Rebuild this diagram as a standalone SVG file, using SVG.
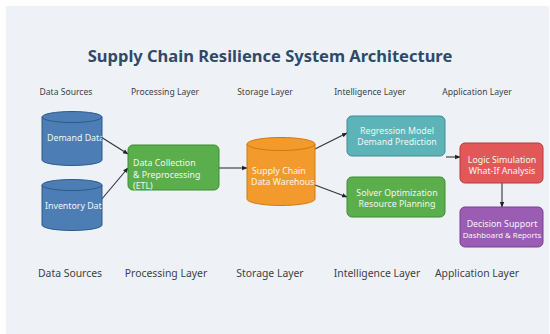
<svg xmlns="http://www.w3.org/2000/svg" width="550" height="334" viewBox="0 0 550 334">
<style>
text{font-family:"Noto Sans","Open Sans","DejaVu Sans",sans-serif}
.title{font-size:16.5px;font-weight:bold;fill:#2f4a68}
.top{font-size:8.6px;fill:#3a3f48}
.bot{font-size:10.4px;fill:#3a3f48}
.nt{font-size:8.8px;fill:#f4f7f4}
.sm{font-size:7.8px;fill:#f4f7f4}
.conn line{stroke:#333;stroke-width:1.1;marker-end:url(#ah)}
</style>
<defs>
<marker id="ah" viewBox="0 0 10 10" refX="9" refY="5" markerWidth="5" markerHeight="5" orient="auto"><path d="M0,1 L10,5 L0,9 z" fill="#222"/></marker>
<clipPath id="c1"><rect x="42" y="105" width="60" height="65"/></clipPath>
<clipPath id="c2"><rect x="42" y="172" width="60" height="65"/></clipPath>
<clipPath id="c3"><rect x="247" y="130" width="68" height="80"/></clipPath>
</defs>
<rect x="0" y="0" width="550" height="334" fill="#ffffff"/>
<rect x="6" y="6" width="543" height="328" fill="#eef2f6"/>
<text class="title" x="270" y="62" text-anchor="middle">Supply Chain Resilience System Architecture</text>
<g id="top-labels">
<text class="top" x="66" y="95" text-anchor="middle">Data Sources</text>
<text class="top" x="165" y="95" text-anchor="middle">Processing Layer</text>
<text class="top" x="265" y="95" text-anchor="middle">Storage Layer</text>
<text class="top" x="370" y="95" text-anchor="middle">Intelligence Layer</text>
<text class="top" x="477" y="95" text-anchor="middle">Application Layer</text>
</g>
<g id="bottom-labels">
<text class="bot" x="70" y="277" text-anchor="middle">Data Sources</text>
<text class="bot" x="166" y="277" text-anchor="middle">Processing Layer</text>
<text class="bot" x="270" y="277" text-anchor="middle">Storage Layer</text>
<text class="bot" x="377" y="277" text-anchor="middle">Intelligence Layer</text>
<text class="bot" x="477" y="277" text-anchor="middle">Application Layer</text>
</g>
<g class="conn" id="connectors">
<line x1="101" y1="137" x2="128" y2="154"/>
<line x1="101" y1="200" x2="128" y2="168"/>
<line x1="219" y1="168" x2="247" y2="168"/>
<line x1="315" y1="149" x2="347" y2="133"/>
<line x1="315" y1="185" x2="347" y2="197"/>
<line x1="446" y1="157" x2="460" y2="157"/>
<line x1="502" y1="183" x2="502" y2="207"/>
</g>
<g id="demand-data">
<path d="M42,117 L42,160 A30,5.5 0 0 0 102,160 L102,117" fill="#4c7db4" stroke="#2d5a8a" stroke-width="1"/>
<ellipse cx="72" cy="117" rx="30" ry="5.5" fill="#4c7db4" stroke="#2d5a8a" stroke-width="1"/>
<text class="nt" x="47" y="141" clip-path="url(#c1)">Demand Data</text>
</g>
<g id="inventory-data">
<path d="M42,185 L42,225 A30,5.5 0 0 0 102,225 L102,185" fill="#4c7db4" stroke="#2d5a8a" stroke-width="1"/>
<ellipse cx="72" cy="185" rx="30" ry="5.5" fill="#4c7db4" stroke="#2d5a8a" stroke-width="1"/>
<text class="nt" x="45" y="209" clip-path="url(#c2)">Inventory Data</text>
</g>
<g id="etl">
<rect x="128" y="145" width="91" height="45" rx="5" fill="#5aae4c" stroke="#3f8a35" stroke-width="1"/>
<text class="nt" x="133" y="166">Data Collection</text>
<text class="nt" x="133" y="177.5">&amp; Preprocessing</text>
<text class="nt" x="133" y="189">(ETL)</text>
</g>
<g id="warehouse">
<path d="M247,144 L247,199 A34,6.5 0 0 0 315,199 L315,144" fill="#f39a2c" stroke="#d27810" stroke-width="1"/>
<ellipse cx="281" cy="144" rx="34" ry="6.5" fill="#f39a2c" stroke="#d27810" stroke-width="1"/>
<text class="nt" x="252" y="173.5" clip-path="url(#c3)">Supply Chain</text>
<text class="nt" x="251" y="185" clip-path="url(#c3)">Data Warehouse</text>
</g>
<g id="regression">
<rect x="347" y="116" width="98" height="40" rx="5" fill="#5cb4b8" stroke="#3e8c90" stroke-width="1"/>
<text class="nt" x="397" y="133.5" text-anchor="middle">Regression Model</text>
<text class="nt" x="397" y="145" text-anchor="middle">Demand Prediction</text>
</g>
<g id="solver">
<rect x="347" y="177" width="98" height="40" rx="5" fill="#5aae4c" stroke="#3f8a35" stroke-width="1"/>
<text class="nt" x="397" y="195.5" text-anchor="middle">Solver Optimization</text>
<text class="nt" x="397" y="207" text-anchor="middle">Resource Planning</text>
</g>
<g id="logic-simulation">
<rect x="460" y="143" width="83" height="40" rx="5" fill="#e25858" stroke="#b83a3a" stroke-width="1"/>
<text class="nt" x="502" y="162.5" text-anchor="middle">Logic Simulation</text>
<text class="nt" x="502" y="174" text-anchor="middle">What-If Analysis</text>
</g>
<g id="decision-support">
<rect x="460" y="207" width="83" height="40" rx="5" fill="#9b5cb4" stroke="#7a3e94" stroke-width="1"/>
<text class="nt" x="502" y="226.5" text-anchor="middle">Decision Support</text>
<text class="sm" x="502" y="238" text-anchor="middle">Dashboard &amp; Reports</text>
</g>
</svg>
